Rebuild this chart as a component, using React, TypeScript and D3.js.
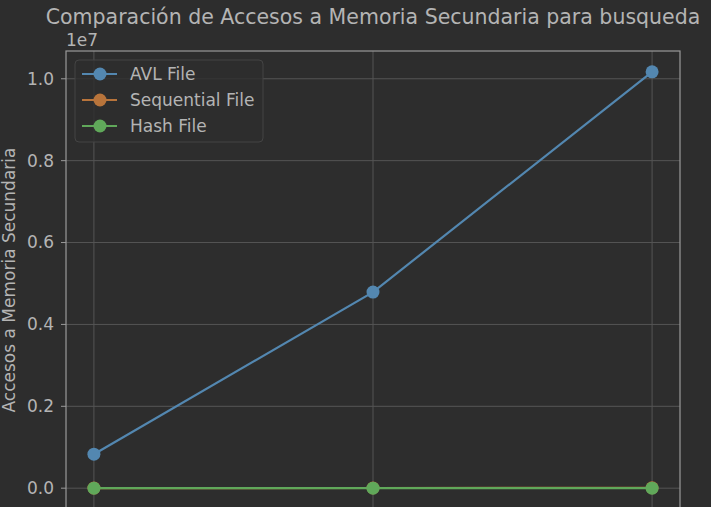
import * as d3 from 'd3';
import React, { useEffect, useRef } from 'react';

// datos (3 tamaños de prueba)
const categories = ['1', '2', '3'];
const avlFile = [830000, 4790000, 10170000];
const sequentialFile = [1500, 4500, 9000];
const hashFile = [2, 2, 2];
const yTicks = [0, 0.2e7, 0.4e7, 0.6e7, 0.8e7, 1.0e7];

const seriesNames = ['AVL File', 'Sequential File', 'Hash File'];
const seriesColors = ['#5387b0', '#b8743b', '#60a85a'];

export default () => {
    const ref = useRef<any>();

    useEffect(() => {
        const width = 711;
        const height = 507;
        const margin = { top: 51, left: 66, right: 31 };
        const plotBottom = 509;

        const svg = d3.select<any, any>(ref.current);
        svg.selectAll('*').remove();
        svg.attr('width', width).attr('height', height).style('display', 'block');

        const font = 'DejaVu Sans, sans-serif';
        const textColor = '#b4b4b4';

        svg.append('rect').attr('width', width).attr('height', height).attr('fill', '#2d2d2d');

        const all = [avlFile, sequentialFile, hashFile];
        const yMin = d3.min(all.flat()) as number;
        const yMax = d3.max(all.flat()) as number;
        const pad = (yMax - yMin) * 0.05;
        const n = categories.length - 1;

        // matplotlib style 5% margins
        const xScale = d3.scaleLinear().domain([-0.05 * n, n * 1.05]).range([margin.left, width - margin.right]);
        const yScale = d3.scaleLinear().domain([yMin - pad, yMax + pad]).range([plotBottom, margin.top]);

        const g = svg.append('g');

        // grid
        g.selectAll('.gy').data(yTicks).join('line')
            .attr('x1', margin.left).attr('x2', width - margin.right)
            .attr('y1', (d) => yScale(d)).attr('y2', (d) => yScale(d))
            .attr('stroke', '#555555').attr('stroke-width', 1);
        g.selectAll('.gx').data(categories).join('line')
            .attr('x1', (d, i) => xScale(i)).attr('x2', (d, i) => xScale(i))
            .attr('y1', margin.top).attr('y2', plotBottom)
            .attr('stroke', '#555555').attr('stroke-width', 1);

        // lines
        const line = d3.line<number>().x((d, i) => xScale(i)).y((d) => yScale(d));
        all.forEach((s, k) => {
            g.append('path').datum(s).attr('d', line).attr('fill', 'none')
                .attr('stroke', seriesColors[k]).attr('stroke-width', 2.2);
            g.selectAll(null).data(s).join('circle')
                .attr('cx', (d, i) => xScale(i)).attr('cy', (d) => yScale(d)).attr('r', 6.5)
                .attr('fill', seriesColors[k]);
        });

        // frame
        svg.append('rect').attr('x', margin.left).attr('y', margin.top)
            .attr('width', width - margin.right - margin.left).attr('height', plotBottom - margin.top)
            .attr('fill', 'none').attr('stroke', '#999999').attr('stroke-width', 1.2);

        // y ticks
        const yAxis = svg.append('g');
        yTicks.forEach((t) => {
            yAxis.append('line').attr('x1', margin.left - 5).attr('x2', margin.left)
                .attr('y1', yScale(t)).attr('y2', yScale(t)).attr('stroke', '#999999');
            yAxis.append('text').attr('x', margin.left - 12).attr('y', yScale(t))
                .attr('dy', '0.35em').attr('text-anchor', 'end')
                .attr('font-family', font).attr('font-size', 17).attr('fill', textColor)
                .text((t / 1e7).toFixed(1));
        });
        svg.append('text').attr('x', margin.left).attr('y', 46)
            .attr('font-family', font).attr('font-size', 17).attr('fill', textColor).text('1e7');

        svg.append('text').attr('transform', `translate(15, ${(margin.top + plotBottom) / 2}) rotate(-90)`)
            .attr('text-anchor', 'middle').attr('font-family', font).attr('font-size', 17)
            .attr('fill', textColor).text('Accesos a Memoria Secundaria');

        svg.append('text').attr('x', (margin.left + width - margin.right) / 2).attr('y', 24)
            .attr('text-anchor', 'middle').attr('font-family', font).attr('font-size', 20.5)
            .attr('fill', textColor).text('Comparación de Accesos a Memoria Secundaria para busqueda');

        // legend
        const lg = svg.append('g').attr('transform', 'translate(75, 60)');
        lg.append('rect').attr('width', 188).attr('height', 82).attr('rx', 4)
            .attr('fill', '#2d2d2d').attr('fill-opacity', 0.8).attr('stroke', '#444444');
        seriesNames.forEach((name, i) => {
            const yy = 14 + i * 26;
            lg.append('line').attr('x1', 7).attr('x2', 42).attr('y1', yy).attr('y2', yy)
                .attr('stroke', seriesColors[i]).attr('stroke-width', 2.2);
            lg.append('circle').attr('cx', 25).attr('cy', yy).attr('r', 6.5).attr('fill', seriesColors[i]);
            lg.append('text').attr('x', 55).attr('y', yy).attr('dy', '0.35em')
                .attr('font-family', font).attr('font-size', 17).attr('fill', textColor).text(name);
        });
    });

    return (
        <svg ref={ref} style={{ position: 'fixed', left: 0, top: 0 }}></svg>
    );
};
